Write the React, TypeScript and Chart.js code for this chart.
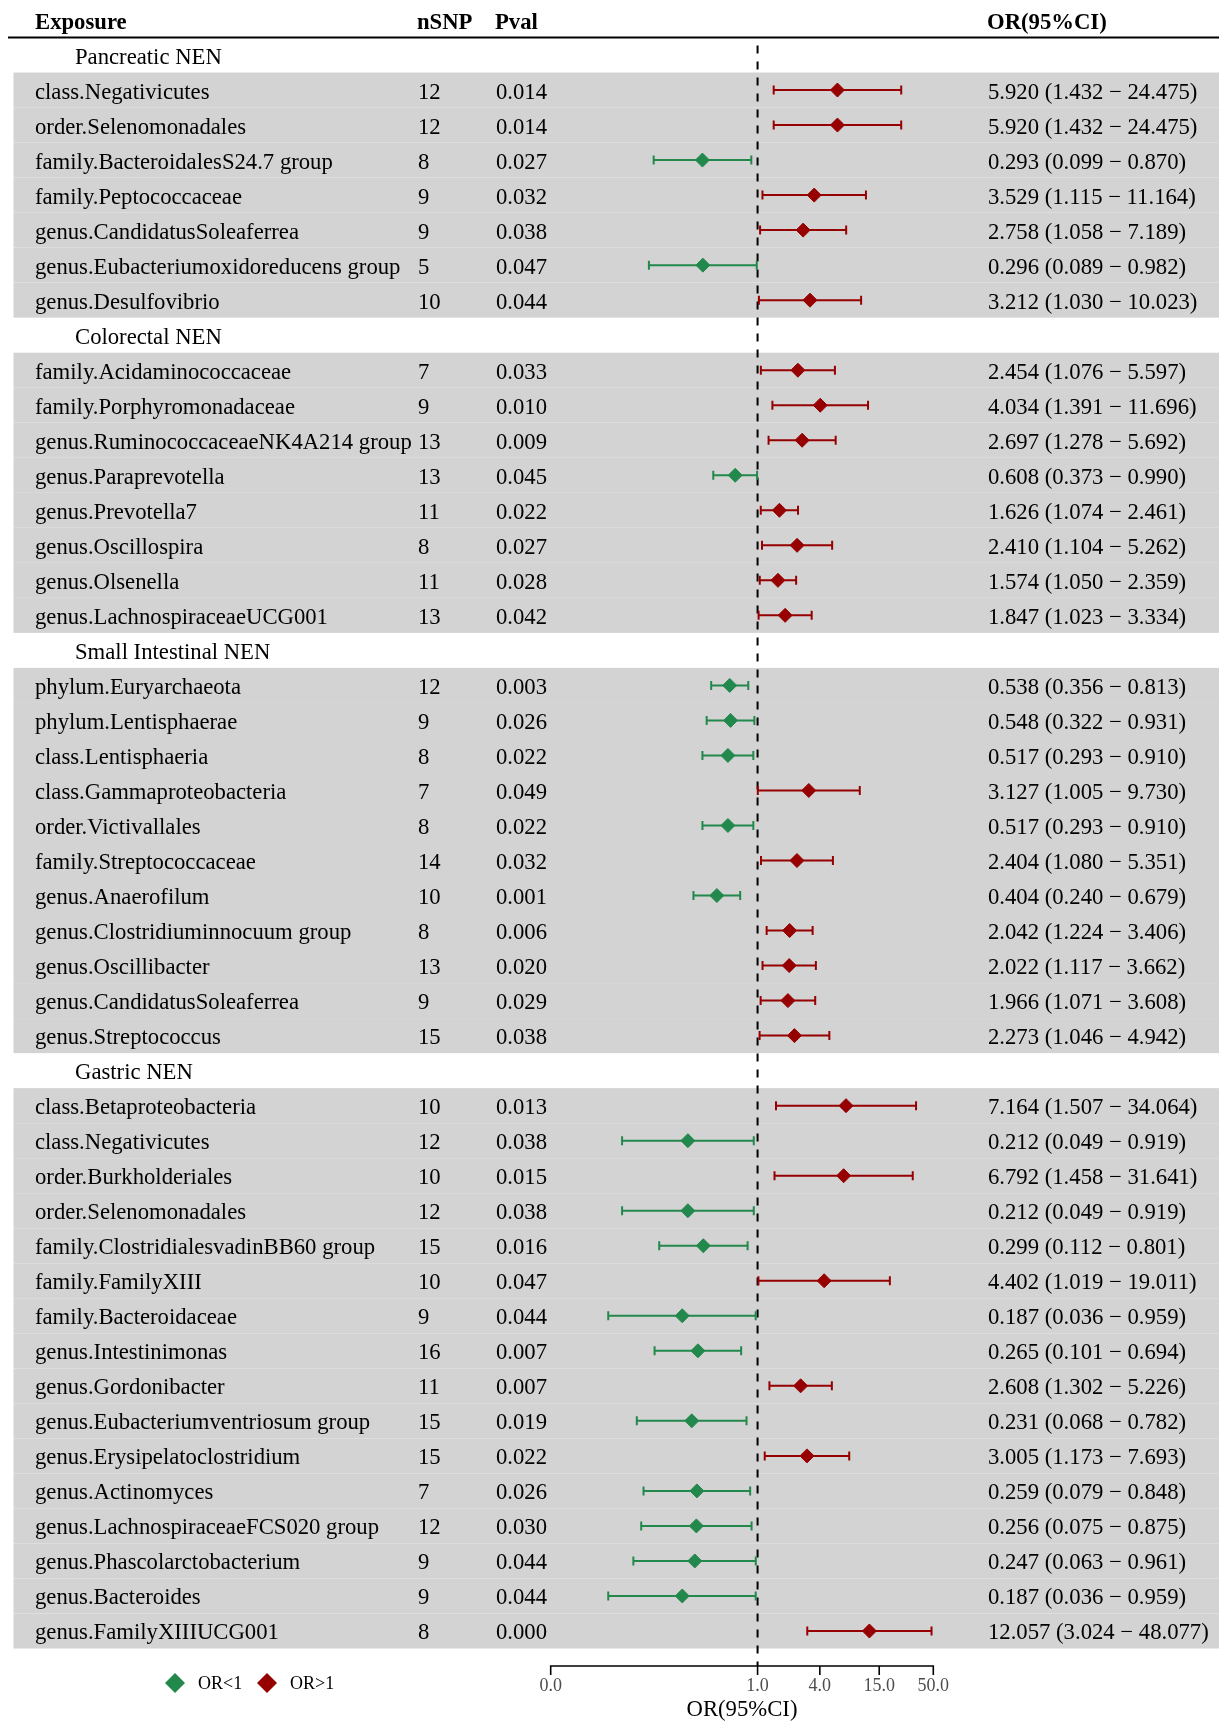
import React, { useEffect, useRef } from 'react';
import { Chart, registerables } from 'chart.js';

Chart.register(...registerables);

const W = 1219;
const H = 1722;

const headers = ['Exposure', 'nSNP', 'Pval', 'OR(95%CI)'];
const groupNames = ['Pancreatic NEN', 'Colorectal NEN', 'Small Intestinal NEN', 'Gastric NEN'];
const groupSizes = [7, 8, 11, 16];

const exposures = [
  'class.Negativicutes', 'order.Selenomonadales', 'family.BacteroidalesS24.7 group', 'family.Peptococcaceae',
  'genus.CandidatusSoleaferrea', 'genus.Eubacteriumoxidoreducens group', 'genus.Desulfovibrio',
  'family.Acidaminococcaceae', 'family.Porphyromonadaceae', 'genus.RuminococcaceaeNK4A214 group', 'genus.Paraprevotella',
  'genus.Prevotella7', 'genus.Oscillospira', 'genus.Olsenella', 'genus.LachnospiraceaeUCG001',
  'phylum.Euryarchaeota', 'phylum.Lentisphaerae', 'class.Lentisphaeria', 'class.Gammaproteobacteria',
  'order.Victivallales', 'family.Streptococcaceae', 'genus.Anaerofilum', 'genus.Clostridiuminnocuum group',
  'genus.Oscillibacter', 'genus.CandidatusSoleaferrea', 'genus.Streptococcus',
  'class.Betaproteobacteria', 'class.Negativicutes', 'order.Burkholderiales', 'order.Selenomonadales',
  'family.ClostridialesvadinBB60 group', 'family.FamilyXIII', 'family.Bacteroidaceae', 'genus.Intestinimonas',
  'genus.Gordonibacter', 'genus.Eubacteriumventriosum group', 'genus.Erysipelatoclostridium', 'genus.Actinomyces',
  'genus.LachnospiraceaeFCS020 group', 'genus.Phascolarctobacterium', 'genus.Bacteroides', 'genus.FamilyXIIIUCG001',
];

const nSNP = [
  12, 12, 8, 9, 9, 5, 10,
  7, 9, 13, 13, 11, 8, 11, 13,
  12, 9, 8, 7, 8, 14, 10, 8, 13, 9, 15,
  10, 12, 10, 12, 15, 10, 9, 16, 11, 15, 15, 7, 12, 9, 9, 8,
];

const pvals = [
  '0.014', '0.014', '0.027', '0.032', '0.038', '0.047', '0.044',
  '0.033', '0.010', '0.009', '0.045', '0.022', '0.027', '0.028', '0.042',
  '0.003', '0.026', '0.022', '0.049', '0.022', '0.032', '0.001', '0.006', '0.020', '0.029', '0.038',
  '0.013', '0.038', '0.015', '0.038', '0.016', '0.047', '0.044', '0.007', '0.007', '0.019', '0.022', '0.026',
  '0.030', '0.044', '0.044', '0.000',
];

const orValues = [
  5.92, 5.92, 0.293, 3.529, 2.758, 0.296, 3.212,
  2.454, 4.034, 2.697, 0.608, 1.626, 2.41, 1.574, 1.847,
  0.538, 0.548, 0.517, 3.127, 0.517, 2.404, 0.404, 2.042, 2.022, 1.966, 2.273,
  7.164, 0.212, 6.792, 0.212, 0.299, 4.402, 0.187, 0.265, 2.608, 0.231, 3.005, 0.259,
  0.256, 0.247, 0.187, 12.057,
];

const lowerCI = [
  1.432, 1.432, 0.099, 1.115, 1.058, 0.089, 1.03,
  1.076, 1.391, 1.278, 0.373, 1.074, 1.104, 1.05, 1.023,
  0.356, 0.322, 0.293, 1.005, 0.293, 1.08, 0.24, 1.224, 1.117, 1.071, 1.046,
  1.507, 0.049, 1.458, 0.049, 0.112, 1.019, 0.036, 0.101, 1.302, 0.068, 1.173, 0.079,
  0.075, 0.063, 0.036, 3.024,
];

const upperCI = [
  24.475, 24.475, 0.87, 11.164, 7.189, 0.982, 10.023,
  5.597, 11.696, 5.692, 0.99, 2.461, 5.262, 2.359, 3.334,
  0.813, 0.931, 0.91, 9.73, 0.91, 5.351, 0.679, 3.406, 3.662, 3.608, 4.942,
  34.064, 0.919, 31.641, 0.919, 0.801, 19.011, 0.959, 0.694, 5.226, 0.782, 7.693, 0.848,
  0.875, 0.961, 0.959, 48.077,
];

const xTickValues = [0.01, 1, 4, 15, 50];
const xTickLabels = ['0.0', '1.0', '4.0', '15.0', '50.0'];
const xAxisTitle = 'OR(95%CI)';
const legendLabels = ['OR<1', 'OR>1'];

const GREEN = '#23884C';
const RED = '#960000';
const BAND = '#D3D3D3';
const FONT = '"Liberation Serif", "Times New Roman", serif';
const FS = 22.7;

type Row = { group?: string; i?: number };
const rows: Row[] = [];
{
  let k = 0;
  groupNames.forEach((g, gi) => {
    rows.push({ group: g });
    for (let j = 0; j < groupSizes[gi]; j++) rows.push({ i: k++ });
  });
}

const fmt = (v: number) => v.toFixed(3);

function diamond(ctx: CanvasRenderingContext2D, x: number, y: number, r: number, color: string) {
  ctx.beginPath();
  ctx.moveTo(x - r, y);
  ctx.lineTo(x, y - r);
  ctx.lineTo(x + r, y);
  ctx.lineTo(x, y + r);
  ctx.closePath();
  ctx.fillStyle = color;
  ctx.fill();
}

const forestPlugin = {
  id: 'forest',
  beforeDatasetsDraw(chart: any) {
    const { ctx } = chart;
    const xs = chart.scales.x;
    const ys = chart.scales.y;
    ctx.save();
    rows.forEach((r, idx) => {
      if (r.i === undefined) return;
      const a = ys.getPixelForValue(idx - 0.5);
      const b = ys.getPixelForValue(idx + 0.5);
      ctx.fillStyle = BAND;
      ctx.fillRect(13.5, Math.min(a, b), W - 13.5, Math.abs(b - a));
    });
    const topY = ys.getPixelForValue(-0.5);
    ctx.strokeStyle = '#000';
    ctx.lineWidth = 2.2;
    ctx.beginPath();
    ctx.moveTo(8, topY);
    ctx.lineTo(W, topY);
    ctx.stroke();
    const x1 = xs.getPixelForValue(1);
    ctx.setLineDash([8, 8]);
    ctx.lineWidth = 2;
    ctx.beginPath();
    ctx.moveTo(x1, topY + 8);
    ctx.lineTo(x1, 1666);
    ctx.stroke();
    ctx.setLineDash([]);
    rows.forEach((r, idx) => {
      if (r.i === undefined) return;
      const i = r.i;
      const y = ys.getPixelForValue(idx);
      const xl = xs.getPixelForValue(lowerCI[i]);
      const xu = xs.getPixelForValue(upperCI[i]);
      ctx.strokeStyle = orValues[i] < 1 ? GREEN : RED;
      ctx.lineWidth = 2;
      ctx.beginPath();
      ctx.moveTo(xl, y);
      ctx.lineTo(xu, y);
      ctx.moveTo(xl, y - 4.5);
      ctx.lineTo(xl, y + 4.5);
      ctx.moveTo(xu, y - 4.5);
      ctx.lineTo(xu, y + 4.5);
      ctx.stroke();
    });
    ctx.restore();
  },
  afterDatasetsDraw(chart: any) {
    const { ctx } = chart;
    const xs = chart.scales.x;
    const ys = chart.scales.y;
    ctx.save();
    ctx.textBaseline = 'alphabetic';
    ctx.fillStyle = '#000';
    ctx.font = `bold ${FS}px ${FONT}`;
    ctx.textAlign = 'left';
    const hy = 29;
    ctx.fillText(headers[0], 35, hy);
    ctx.fillText(headers[1], 417, hy);
    ctx.fillText(headers[2], 495, hy);
    ctx.fillText(headers[3], 987, hy);
    ctx.font = `${FS}px ${FONT}`;
    rows.forEach((r, idx) => {
      const y = ys.getPixelForValue(idx) + 8.5;
      if (r.group !== undefined) {
        ctx.fillText(r.group, 75, y);
        return;
      }
      const i = r.i as number;
      ctx.fillText(exposures[i], 35, y);
      ctx.fillText(String(nSNP[i]), 418, y);
      ctx.fillText(pvals[i], 496, y);
      ctx.fillText(`${fmt(orValues[i])} (${fmt(lowerCI[i])} \u2212 ${fmt(upperCI[i])})`, 988, y);
    });
    const axY = 1666;
    const xa = xs.getPixelForValue(xTickValues[0]);
    const xb = xs.getPixelForValue(xTickValues[xTickValues.length - 1]);
    ctx.strokeStyle = '#000';
    ctx.lineWidth = 1.6;
    ctx.beginPath();
    ctx.moveTo(xa, axY);
    ctx.lineTo(xb, axY);
    xTickValues.forEach((v) => {
      const px = xs.getPixelForValue(v);
      ctx.moveTo(px, axY - 0.8);
      ctx.lineTo(px, axY + 9);
    });
    ctx.stroke();
    ctx.font = `18px ${FONT}`;
    ctx.fillStyle = '#4D4D4D';
    ctx.textAlign = 'center';
    xTickValues.forEach((v, k) => {
      ctx.fillText(xTickLabels[k], xs.getPixelForValue(v), 1691);
    });
    ctx.font = `${FS}px ${FONT}`;
    ctx.fillStyle = '#000';
    ctx.fillText(xAxisTitle, (xa + xb) / 2, 1716);
    ctx.textAlign = 'left';
    ctx.font = `18px ${FONT}`;
    diamond(ctx, 175, 1683, 10, GREEN);
    ctx.fillStyle = '#000';
    ctx.fillText(legendLabels[0], 198, 1689);
    diamond(ctx, 267, 1683, 10, RED);
    ctx.fillStyle = '#000';
    ctx.fillText(legendLabels[1], 290, 1689);
    ctx.restore();
  },
};

export default function App() {
  const ref = useRef<HTMLCanvasElement | null>(null);
  useEffect(() => {
    if (!ref.current) return;
    const greenPts: { x: number; y: number }[] = [];
    const redPts: { x: number; y: number }[] = [];
    rows.forEach((r, idx) => {
      if (r.i === undefined) return;
      const p = { x: orValues[r.i], y: idx };
      if (orValues[r.i] < 1) greenPts.push(p);
      else redPts.push(p);
    });
    const chart = new Chart(ref.current, {
      type: 'scatter',
      data: {
        datasets: [
          { label: legendLabels[0], data: greenPts, pointStyle: 'rectRot', pointRadius: 7, backgroundColor: GREEN, borderColor: GREEN, borderWidth: 1 },
          { label: legendLabels[1], data: redPts, pointStyle: 'rectRot', pointRadius: 7, backgroundColor: RED, borderColor: RED, borderWidth: 1 },
        ],
      },
      options: {
        responsive: false,
        maintainAspectRatio: false,
        devicePixelRatio: 1,
        animation: false,
        layout: { padding: { left: 550.7, right: W - 933.3, top: 37.5, bottom: H - 1648.5 } },
        plugins: { legend: { display: false }, tooltip: { enabled: false } },
        scales: {
          x: {
            type: 'logarithmic',
            min: xTickValues[0],
            max: xTickValues[xTickValues.length - 1],
            display: false,
            afterBuildTicks: (s: any) => {
              s.ticks = xTickValues.map((v) => ({ value: v }));
            },
          },
          y: { type: 'linear', min: -0.5, max: rows.length - 0.5, reverse: true, display: false },
        },
      },
      plugins: [forestPlugin],
    } as any);
    return () => chart.destroy();
  }, []);
  return (
    <div style={{ position: 'absolute', left: 0, top: 0, width: W, height: H, background: '#fff' }}>
      <canvas ref={ref} width={W} height={H} style={{ display: 'block', width: W, height: H }} />
    </div>
  );
}
